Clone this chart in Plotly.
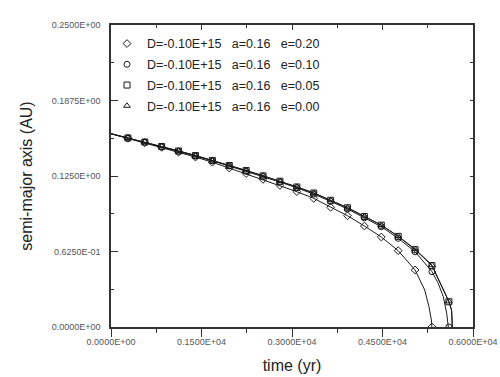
import plotly.graph_objects as go

# ---------------- data ----------------
# marker times (yr)
t_mark = [280, 560, 840, 1120, 1400, 1680, 1960, 2240, 2520, 2800,
          3080, 3360, 3640, 3920, 4200, 4480, 4760, 5040, 5320, 5600]

a_e00 = [0.1565, 0.1532, 0.1495, 0.1458, 0.1420, 0.1380, 0.1338, 0.1296, 0.1252, 0.1208,
         0.1160, 0.1110, 0.1050, 0.0988, 0.0916, 0.0844, 0.0752, 0.0645, 0.0512, 0.0212]
a_e05 = [0.1565, 0.1531, 0.1494, 0.1457, 0.1419, 0.1379, 0.1337, 0.1295, 0.1251, 0.1207,
         0.1159, 0.1109, 0.1049, 0.0987, 0.0915, 0.0843, 0.0750, 0.0640, 0.0508, 0.0209]
a_e10 = [0.1564, 0.1530, 0.1492, 0.1455, 0.1416, 0.1376, 0.1333, 0.1290, 0.1245, 0.1200,
         0.1152, 0.1100, 0.1040, 0.0977, 0.0904, 0.0830, 0.0734, 0.0623, 0.0458, 0.0]
a_e20 = [0.1562, 0.1526, 0.1487, 0.1448, 0.1407, 0.1364, 0.1316, 0.1270, 0.1222, 0.1172,
         0.1120, 0.1065, 0.0991, 0.0921, 0.0836, 0.0745, 0.0632, 0.0472, 0.0]

# extra points of the drawn curves near t=0 and near the plunge to a=0
t0, a0 = 0, 0.16
t_end_e00 = [5645, 5657]
a_end_e00 = [0.0141, 0.0]
t_end_e05 = [5645, 5657]
a_end_e05 = [0.0138, 0.0]
t_end_e10 = [5420, 5508, 5564, 5591, 5600]
a_end_e10 = [0.0365, 0.0251, 0.0113, 0.0, 0.0]
t_end_e20 = [5200, 5270, 5310, 5318]
a_end_e20 = [0.0306, 0.0168, 0.0058, 0.0]

labels = ["D=-0.10E+15   a=0.16   e=0.20",
          "D=-0.10E+15   a=0.16   e=0.10",
          "D=-0.10E+15   a=0.16   e=0.05",
          "D=-0.10E+15   a=0.16   e=0.00"]

x_tickvals = [0, 1500, 3000, 4500, 6000]
x_ticktext = ["0.0000E+00", "0.1500E+04", "0.3000E+04", "0.4500E+04", "0.6000E+04"]
x_minor = [750, 2250, 3750, 5250]
y_tickvals = [0.0, 0.0625, 0.125, 0.1875, 0.25]
y_ticktext = ["0.0000E+00", "0.6250E-01", "0.1250E+00", "0.1875E+00", "0.2500E+00"]
y_minor = [0.03125, 0.09375, 0.15625, 0.21875]

# ---------------- figure ----------------
fig = go.Figure()
NB = "\u00a0"

series = [
    (a_e20, t_end_e20, a_end_e20, "diamond-open", 6, labels[0]),
    (a_e10, t_end_e10, a_end_e10, "circle-open", 6, labels[1]),
    (a_e05, t_end_e05, a_end_e05, "square-open", 6, labels[2]),
    (a_e00, t_end_e00, a_end_e00, "triangle-up-open", 6, labels[3]),
]

LINE = "#1a1a1a"
for i, (a_m, t_e, a_e, sym, sz, lab) in enumerate(series):
    n = len(a_m)
    tm = t_mark[:n]
    tl = [t0] + [t for t, a in zip(tm, a_m) if a > 0] + t_e
    al = [a0] + [a for a in a_m if a > 0] + a_e
    fig.add_trace(go.Scatter(x=tl, y=al, mode="lines",
                             line=dict(color=LINE, width=1),
                             showlegend=False, hoverinfo="skip"))
    fig.add_trace(go.Scatter(x=tm, y=a_m, mode="markers",
                             marker=dict(symbol=sym, size=sz, color=LINE,
                                         line=dict(width=1, color=LINE)),
                             name=lab.replace(" ", NB),
                             legendgroup=f"g{i}"))

FONT = "Liberation Sans, Arial, sans-serif"
AXC = "#333333"
tickfont = dict(family=FONT, size=9, color="#555555")

fig.update_layout(
    width=500, height=377,
    margin=dict(l=111, r=27, t=25, b=50, autoexpand=False),
    paper_bgcolor="white", plot_bgcolor="white",
    font=dict(family=FONT, color="#222222"),
    showlegend=True,
    legend=dict(x=-0.011, y=0.987, xanchor="left", yanchor="top",
                bgcolor="rgba(0,0,0,0)", borderwidth=0,
                font=dict(family=FONT, size=12.5, color="#222222"),
                traceorder="grouped", tracegroupgap=1.5,
                itemwidth=30),
    xaxis=dict(range=[0, 6000], showgrid=False, zeroline=False,
               showline=True, linecolor=AXC, linewidth=1.5,
               ticks="outside", ticklen=8, tickwidth=1, tickcolor=AXC,
               tickvals=x_tickvals, ticktext=x_ticktext, tickfont=tickfont,
               ticklabelstandoff=-3,
               minor=dict(tickvals=x_minor, ticks="outside", ticklen=4,
                          tickcolor=AXC, tickwidth=1, showgrid=False),
               title=dict(text="time (yr)",
                          font=dict(family=FONT, size=16, color="#222222"),
                          standoff=14)),
    xaxis2=dict(range=[0, 6000], overlaying="x", side="top", showgrid=False,
                zeroline=False, showline=True, linecolor=AXC, linewidth=1.5,
                ticks="inside", ticklen=5, tickwidth=1, tickcolor=AXC,
                tickvals=x_tickvals, showticklabels=False,
                minor=dict(tickvals=x_minor, ticks="inside", ticklen=3,
                           tickcolor=AXC, tickwidth=1, showgrid=False)),
    yaxis=dict(range=[0, 0.25], showgrid=False, zeroline=False,
               showline=True, linecolor=AXC, linewidth=1.5,
               ticks="inside", ticklen=7, tickwidth=1, tickcolor=AXC,
               tickvals=y_tickvals, ticktext=y_ticktext, tickfont=tickfont,
               ticklabelstandoff=7,
               minor=dict(tickvals=y_minor, ticks="inside", ticklen=3,
                          tickcolor=AXC, tickwidth=1, showgrid=False),
               title=dict(text="semi-major axis (AU)",
                          font=dict(family=FONT, size=16, color="#222222"),
                          standoff=15)),
    yaxis2=dict(range=[0, 0.25], overlaying="y", side="right", showgrid=False,
                zeroline=False, showline=True, linecolor=AXC, linewidth=1.5,
                ticks="inside", ticklen=3, tickwidth=1, tickcolor=AXC,
                tickvals=y_tickvals, showticklabels=False,
                minor=dict(tickvals=y_minor, ticks="inside", ticklen=3,
                           tickcolor=AXC, tickwidth=1, showgrid=False)),
)

fig.add_trace(go.Scatter(x=[0], y=[0], xaxis="x2", yaxis="y2", mode="markers",
                         marker=dict(opacity=0), showlegend=False, hoverinfo="skip"))

fig.write_html("out.html", config={"displayModeBar": False},
               post_script="document.body.style.margin='0';document.body.style.padding='0';")
